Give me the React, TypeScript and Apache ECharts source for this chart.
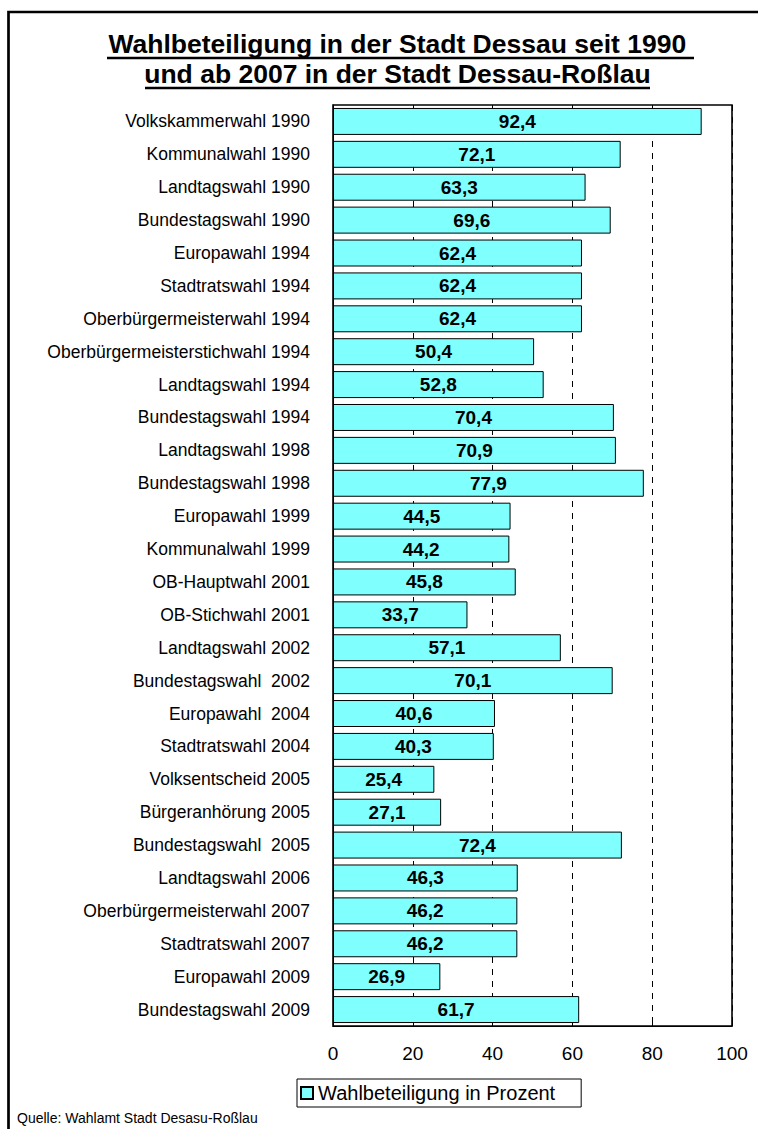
import React, { useEffect, useRef } from "react";
import * as echarts from "echarts";

const categories: string[] = [
  "Volkskammerwahl 1990",
  "Kommunalwahl 1990",
  "Landtagswahl 1990",
  "Bundestagswahl 1990",
  "Europawahl 1994",
  "Stadtratswahl 1994",
  "Oberbürgermeisterwahl 1994",
  "Oberbürgermeisterstichwahl 1994",
  "Landtagswahl 1994",
  "Bundestagswahl 1994",
  "Landtagswahl 1998",
  "Bundestagswahl 1998",
  "Europawahl 1999",
  "Kommunalwahl 1999",
  "OB-Hauptwahl 2001",
  "OB-Stichwahl 2001",
  "Landtagswahl 2002",
  "Bundestagswahl  2002",
  "Europawahl  2004",
  "Stadtratswahl 2004",
  "Volksentscheid 2005",
  "Bürgeranhörung 2005",
  "Bundestagswahl  2005",
  "Landtagswahl 2006",
  "Oberbürgermeisterwahl 2007",
  "Stadtratswahl 2007",
  "Europawahl 2009",
  "Bundestagswahl 2009",
];

const turnout: number[] = [
  92.4, 72.1, 63.3, 69.6, 62.4, 62.4, 62.4, 50.4, 52.8, 70.4, 70.9, 77.9, 44.5,
  44.2, 45.8, 33.7, 57.1, 70.1, 40.6, 40.3, 25.4, 27.1, 72.4, 46.3, 46.2, 46.2,
  26.9, 61.7,
];

const titleLines: string[] = [
  "Wahlbeteiligung in der Stadt Dessau seit 1990 ",
  "und ab 2007 in der Stadt Dessau-Roßlau",
];
const seriesName = "Wahlbeteiligung in Prozent";
const sourceNote = "Quelle: Wahlamt Stadt Desasu-Roßlau";

const FONT = "'Liberation Sans', Arial, sans-serif";

export default function App() {
  const ref = useRef<HTMLDivElement>(null);
  useEffect(() => {
    if (!ref.current) return;
    const chart = echarts.init(ref.current, null, { renderer: "svg" });
    chart.setOption({
      animation: false,
      backgroundColor: "#ffffff",
      textStyle: { fontFamily: FONT },
      grid: {
        left: 333,
        right: 26,
        top: 105,
        bottom: 103,
        show: false,
        containLabel: false,
      },
      legend: {
        data: [seriesName],
        left: 297,
        top: 1079,
        borderColor: "#000",
        borderWidth: 1,
        padding: [4, 26, 4, 3],
        itemWidth: 12,
        itemHeight: 12,
        icon: "rect",
        textStyle: { fontSize: 20, color: "#000", fontFamily: FONT },
      },
      xAxis: {
        type: "value",
        min: 0,
        max: 100,
        interval: 20,
        axisLine: { show: true, lineStyle: { color: "#000", width: 1 } },
        axisTick: { show: true, inside: true, length: 4, lineStyle: { color: "#000" } },
        axisLabel: { fontSize: 19, color: "#000", margin: 18, fontFamily: FONT },
        splitLine: {
          show: true,
          lineStyle: { color: "#000", type: [6, 6], width: 1 },
        },
      },
      yAxis: {
        type: "category",
        data: categories,
        inverse: true,
        axisLine: { show: true, lineStyle: { color: "#000", width: 1 } },
        axisTick: { show: false },
        axisLabel: { fontSize: 17.5, color: "#000", margin: 23, fontFamily: FONT },
        splitLine: { show: false },
      },
      series: [
        {
          name: seriesName,
          type: "bar",
          data: turnout,
          barCategoryGap: "18%",
          itemStyle: { color: "#80FFFF", borderColor: "#000", borderWidth: 1 },
          label: {
            show: true,
            position: "inside",
            color: "#000",
            fontWeight: "bold",
            fontSize: 19,
            fontFamily: FONT,
            formatter: (p: any) => p.value.toFixed(1).replace(".", ","),
          },
        },
      ],
      graphic: [
        {
          type: "rect",
          shape: { x: 8.5, y: 12, width: 900, height: 1300 },
          style: { fill: "none", stroke: "#000", lineWidth: 2.7 },
          silent: true,
        },
        {
          type: "rect",
          shape: { x: 333, y: 105, width: 399, height: 921 },
          style: { fill: "none", stroke: "#000", lineWidth: 1.6 },
          silent: true,
          z: 100,
        },
        {
          type: "text",
          x: 401,
          y: 44,
          style: {
            text: titleLines[0],
            fontSize: 26.5,
            fontWeight: "bold",
            fontFamily: FONT,
            fill: "#000",
            align: "center",
            verticalAlign: "middle",
          },
        },
        {
          type: "line",
          shape: { x1: 107, y1: 58, x2: 694, y2: 58 },
          style: { stroke: "#000", lineWidth: 2.5 },
        },
        {
          type: "text",
          x: 397.5,
          y: 74,
          style: {
            text: titleLines[1],
            fontSize: 26.5,
            fontWeight: "bold",
            fontFamily: FONT,
            fill: "#000",
            align: "center",
            verticalAlign: "middle",
          },
        },
        {
          type: "line",
          shape: { x1: 145, y1: 88, x2: 650, y2: 88 },
          style: { stroke: "#000", lineWidth: 2.5 },
        },
        {
          type: "text",
          x: 17,
          y: 1118,
          style: {
            text: sourceNote,
            fontSize: 14,
            fontFamily: FONT,
            fill: "#000",
            align: "left",
            verticalAlign: "middle",
          },
        },
      ],
    });
    return () => chart.dispose();
  }, []);
  return (
    <div
      ref={ref}
      style={{ position: "absolute", left: 0, top: 0, width: 758, height: 1129 }}
    />
  );
}
